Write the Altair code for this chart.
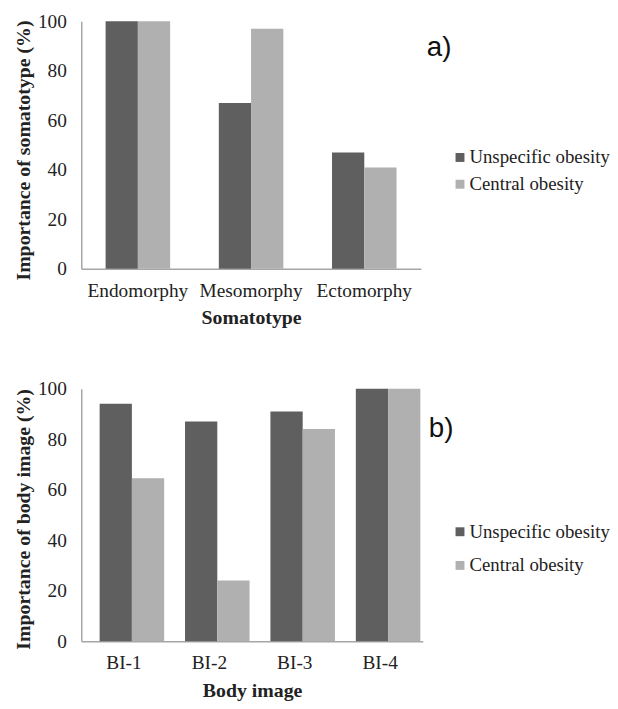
import altair as alt
import pandas as pd

series = ["Unspecific obesity", "Central obesity"]
colors = ["#5f5f5f", "#b0b0b0"]

somatotypes = ["Endomorphy", "Mesomorphy", "Ectomorphy"]
soma_unspecific = [100, 67, 47]
soma_central = [100, 97, 41]

body_images = ["BI-1", "BI-2", "BI-3", "BI-4"]
bi_unspecific = [94, 87, 91, 100]
bi_central = [64.5, 24, 84, 100]

y_ticks = [0, 20, 40, 60, 80, 100]
panel_labels = ["a)", "b)"]

SERIF = "Liberation Serif"


def make_panel(cats, v1, v2, xtitle, ytitle, label, width, height,
               label_x, label_y, legend_y, row_padding, title_y):
    rows = []
    for c, a, b in zip(cats, v1, v2):
        rows.append({"cat": c, "series": series[0], "value": a})
        rows.append({"cat": c, "series": series[1], "value": b})
    df = pd.DataFrame(rows)

    bars = alt.Chart(df).mark_bar().encode(
        x=alt.X("cat:N", sort=cats, title=xtitle,
                scale=alt.Scale(paddingInner=0.43, paddingOuter=0.215),
                axis=alt.Axis(labelAngle=0, ticks=False, labelPadding=13,
                              titlePadding=8, domainColor="#a6a6a6",
                              domainWidth=1.5)),
        xOffset=alt.XOffset("series:N", scale=alt.Scale(domain=series)),
        y=alt.Y("value:Q", title=ytitle,
                scale=alt.Scale(domain=[0, 100]),
                axis=alt.Axis(values=y_ticks, grid=False, ticks=False,
                              labelPadding=15, titlePadding=4, titleY=title_y,
                              domainColor="#a6a6a6", domainWidth=1.5)),
        color=alt.Color("series:N", scale=alt.Scale(domain=series, range=colors),
                        legend=alt.Legend(title=None, orient="none",
                                          legendX=373, legendY=legend_y,
                                          labelFont=SERIF, labelFontSize=19,
                                          labelColor="#222222",
                                          symbolType="square", symbolSize=81,
                                          symbolStrokeWidth=0,
                                          rowPadding=row_padding,
                                          labelOffset=0)),
    )

    text = alt.Chart(pd.DataFrame({"label": [label]})).mark_text(
        font="Liberation Sans", fontSize=28, align="left", baseline="alphabetic",
        color="#111111"
    ).encode(text="label:N", x=alt.value(label_x), y=alt.value(label_y))

    return alt.layer(bars, text).properties(width=width, height=height)


pa = make_panel(somatotypes, soma_unspecific, soma_central, "Somatotype",
                "Importance of somatotype (%)", panel_labels[0], 343, 250,
                349, 35, 128, 7, 130)
pb = make_panel(body_images, bi_unspecific, bi_central, "Body image",
                "Importance of body image (%)", panel_labels[1], 345, 255,
                351, 49, 135, 14, 131.5)

chart = alt.vconcat(pa, pb, spacing=51).resolve_scale(
    color="independent"
).properties(
    padding={"left": 5, "top": 0, "right": 0, "bottom": 0}
).configure_view(stroke=None).configure_axis(
    labelFont=SERIF, labelFontSize=19.5, labelColor="#222222",
    titleFont=SERIF, titleFontSize=20, titleFontWeight="bold",
    titleColor="#222222"
)

chart.save("out.html", embed_options={"renderer": "svg", "actions": False})
